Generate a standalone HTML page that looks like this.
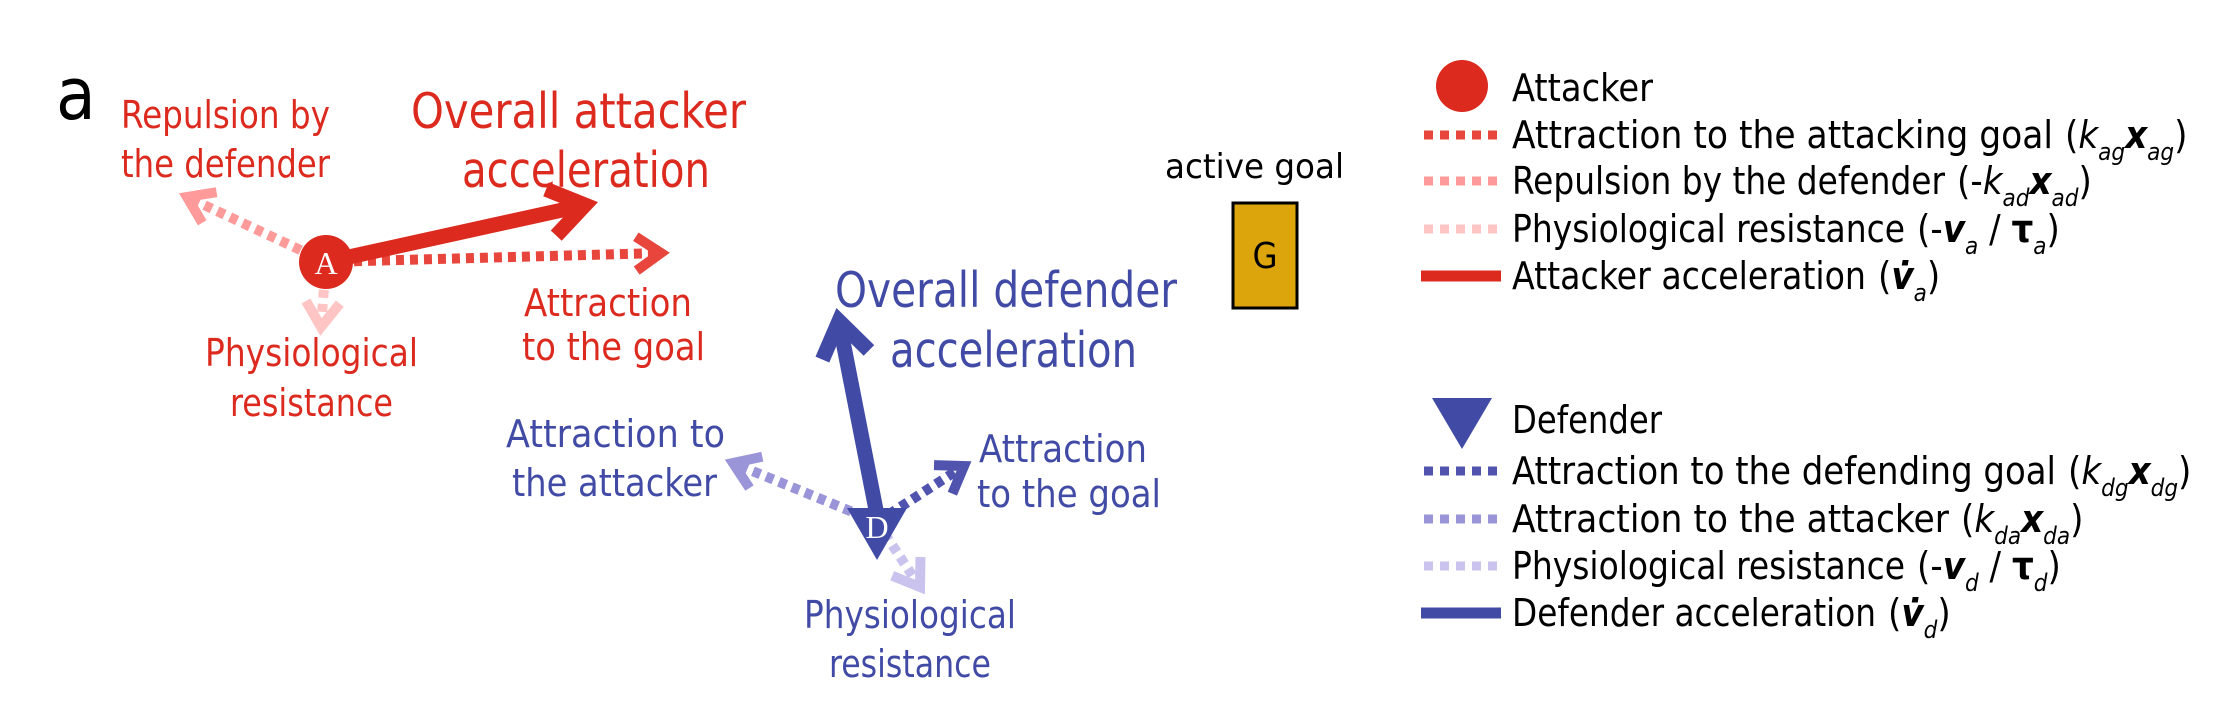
<!DOCTYPE html>
<html><head><meta charset="utf-8"><style>
html,body{margin:0;padding:0;background:#fff;}
svg{display:block;}
text{font-family:"DejaVu Sans Condensed","DejaVu Sans","Liberation Sans",sans-serif;}
text.serif{font-family:"Liberation Serif",serif;}
</style></head><body>
<svg id="fig" width="2225" height="703" viewBox="0 0 2225 703">
<text x="56" y="119" font-size="72" fill="#000">a</text>
<g id="arrows"></g>

<rect x="1233" y="203" width="64" height="105" fill="#DBA50B" stroke="#000" stroke-width="3"/>
<text x="1265" y="268" font-size="36" text-anchor="middle" fill="#000">G</text>
<text x="1165" y="178" font-size="34" textLength="179" lengthAdjust="spacingAndGlyphs" fill="#000">active goal</text>

<g fill="#DC2A1F" font-size="38">
<text x="121" y="128" textLength="209" lengthAdjust="spacingAndGlyphs">Repulsion by</text>
<text x="121" y="177" textLength="209" lengthAdjust="spacingAndGlyphs">the defender</text>
<text x="411" y="128" font-size="49" textLength="335" lengthAdjust="spacingAndGlyphs">Overall attacker</text>
<text x="462" y="187" font-size="49" textLength="248" lengthAdjust="spacingAndGlyphs">acceleration</text>
<text x="524" y="316" textLength="168" lengthAdjust="spacingAndGlyphs">Attraction</text>
<text x="522" y="360" textLength="183" lengthAdjust="spacingAndGlyphs">to the goal</text>
<text x="205" y="366" textLength="213" lengthAdjust="spacingAndGlyphs">Physiological</text>
<text x="230" y="416" textLength="163" lengthAdjust="spacingAndGlyphs">resistance</text>
</g>
<g fill="#414BA6" font-size="38">
<text x="835" y="307" font-size="49" textLength="342" lengthAdjust="spacingAndGlyphs">Overall defender</text>
<text x="890" y="367" font-size="49" textLength="247" lengthAdjust="spacingAndGlyphs">acceleration</text>
<text x="506" y="447" textLength="219" lengthAdjust="spacingAndGlyphs">Attraction to</text>
<text x="512" y="496" textLength="205" lengthAdjust="spacingAndGlyphs">the attacker</text>
<text x="979" y="462" textLength="168" lengthAdjust="spacingAndGlyphs">Attraction</text>
<text x="977" y="507" textLength="184" lengthAdjust="spacingAndGlyphs">to the goal</text>
<text x="804" y="628" textLength="212" lengthAdjust="spacingAndGlyphs">Physiological</text>
<text x="829" y="677" textLength="162" lengthAdjust="spacingAndGlyphs">resistance</text>
</g>

<g id="legend">
<ellipse cx="1462" cy="86" rx="26" ry="26" fill="#DC2A1F"/>
<text x="1512" y="101" font-size="38" textLength="141" lengthAdjust="spacingAndGlyphs">Attacker</text>
<polygon points="1432,398 1492,398 1462,449" fill="#414BA6"/>
<text x="1512" y="433" font-size="38" textLength="150" lengthAdjust="spacingAndGlyphs">Defender</text>
</g>
<g id="agents">
<circle cx="326" cy="262" r="27" fill="#DC2A1F"/>
<text class="serif" x="326" y="274" font-size="32" text-anchor="middle" fill="#fff">A</text>
<polygon points="847,508 907,508 877,560" fill="#414BA6"/>
<text class="serif" x="877" y="538" font-size="32" text-anchor="middle" fill="#fff">D</text>
</g>
</svg>
<script>
// arrow vectors (start/end), diagram data
const arrowNames=['a-repulsion','a-physio','a-goal','a-accel','d-attacker','d-physio','d-goal','d-accel'];
const arrowStart=[[326,262],[326,262],[326,262],[326,262],[877,522],[877,522],[877,522],[877,515]];
const arrowEnd=[[187,197],[321,327],[661,253],[585,205],[733,463],[920,587],[964,466],[839,321]];
const arrowColor=['#FF9A9A','#FFC4C4','#E8453C','#DC2A1F','#9A94D8','#C9C3EE','#5154AE','#414BA6'];
const arrowSolid=[false,false,false,true,false,false,false,true];
const NS='http://www.w3.org/2000/svg';
const g=document.getElementById('arrows');
function line(x1,y1,x2,y2,c,w,dash){
  const l=document.createElementNS(NS,'line');
  l.setAttribute('x1',x1);l.setAttribute('y1',y1);l.setAttribute('x2',x2);l.setAttribute('y2',y2);
  l.setAttribute('stroke',c);l.setAttribute('stroke-width',w);
  if(dash)l.setAttribute('stroke-dasharray',dash);
  return l;
}
arrowNames.forEach((n,i)=>{
  const [x1,y1]=arrowStart[i],[x2,y2]=arrowEnd[i];
  const solid=arrowSolid[i],w=solid?15:10,L=solid?42:30;
  const grp=document.createElementNS(NS,'g');
  
  
  const a=Math.atan2(y2-y1,x2-x1);
  const bx=x2-Math.cos(a)*w*0.4,by=y2-Math.sin(a)*w*0.4;
  grp.appendChild(line(x1,y1,bx,by,arrowColor[i],w,solid?null:'8 6'));
  const p=document.createElementNS(NS,'polyline');
  const t=0.6;
  const pts=[[x2-L*Math.cos(a-t),y2-L*Math.sin(a-t)],[x2,y2],[x2-L*Math.cos(a+t),y2-L*Math.sin(a+t)]];
  p.setAttribute('points',pts.map(q=>q.join(',')).join(' '));
  p.setAttribute('fill','none');p.setAttribute('stroke',arrowColor[i]);p.setAttribute('stroke-width',w);
  p.setAttribute('stroke-linejoin','miter');
  grp.appendChild(p);
  g.appendChild(grp);
});
// legend rows
const legendLabels=['Attraction to the attacking goal','Repulsion by the defender','Physiological resistance','Attacker acceleration','Attraction to the defending goal','Attraction to the attacker','Physiological resistance','Defender acceleration'];
const legendWidths=[541,433,393,354,544,437,393,364];
const legendColors=['#E8453C','#FF9A9A','#FFC4C4','#DC2A1F','#5154AE','#9A94D8','#C9C3EE','#414BA6'];
const legendY=[135,181,229,276,471,519,566,613];
const legendFormula=[
 [['(',0,''],['k',1,'i'],['ag',2,'s'],['x',1,'bi'],['ag',2,'s'],[')',0,'']],
 [['(-',0,''],['k',1,'i'],['ad',2,'s'],['x',1,'bi'],['ad',2,'s'],[')',0,'']],
 [['(-',0,''],['v',1,'bi'],['a',2,'s'],[' / ',0,''],['τ',1,'b'],['a',2,'s'],[')',0,'']],
 [['(',0,''],['v̇',1,'bi'],['a',2,'s'],[')',0,'']],
 [['(',0,''],['k',1,'i'],['dg',2,'s'],['x',1,'bi'],['dg',2,'s'],[')',0,'']],
 [['(',0,''],['k',1,'i'],['da',2,'s'],['x',1,'bi'],['da',2,'s'],[')',0,'']],
 [['(-',0,''],['v',1,'bi'],['d',2,'s'],[' / ',0,''],['τ',1,'b'],['d',2,'s'],[')',0,'']],
 [['(',0,''],['v̇',1,'bi'],['d',2,'s'],[')',0,'']]
];
const lg=document.getElementById('legend');
legendLabels.forEach((lab,i)=>{
  const y=legendY[i],solid=(i===3||i===7);
  const l=line(solid?1421:1424,y,1501,y,legendColors[i],solid?11:9,solid?null:'9 7');
  
  
  lg.appendChild(l);
  const t=document.createElementNS(NS,'text');
  t.setAttribute('x',1512);t.setAttribute('y',y+13);t.setAttribute('font-size',38);
  t.setAttribute('textLength',legendWidths[i]);t.setAttribute('lengthAdjust','spacingAndGlyphs');
  t.textContent=lab;
  
  
  lg.appendChild(t);
  const f=document.createElementNS(NS,'text');
  f.setAttribute('x',1512+legendWidths[i]+12);f.setAttribute('y',y+13);f.setAttribute('font-size',38);
  let sub=false;
  legendFormula[i].forEach(([s,k,st])=>{
    const ts=document.createElementNS(NS,'tspan');
    ts.textContent=s;
    if(st.includes('i'))ts.setAttribute('font-style','italic');
    if(st.includes('b'))ts.setAttribute('font-weight','bold');
    if(st==='s'){ts.setAttribute('font-size',24);ts.setAttribute('font-style','italic');ts.setAttribute('dy',sub?0:12);sub=true;}
    else if(sub){ts.setAttribute('dy',-12);sub=false;}
    f.appendChild(ts);
  });
  
  
  lg.appendChild(f);
});
</script>
</body></html>
